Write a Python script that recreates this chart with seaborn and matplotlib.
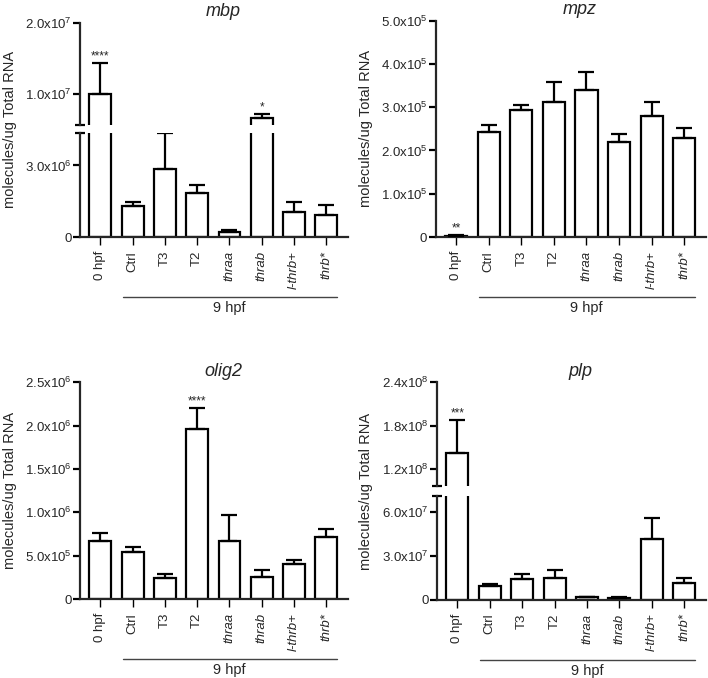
import numpy as np
import pandas as pd
import matplotlib
matplotlib.use("Agg")
import matplotlib.pyplot as plt
import matplotlib.transforms as mtransforms
import seaborn as sns

# data (molecules/ug total RNA)
groups = ['0 hpf', 'Ctrl', 'T3', 'T2', 'thraa', 'thrab', 'l-thrb+', 'thrb*']
italic_groups = ['thraa', 'thrab', 'l-thrb+', 'thrb*']

mbp_mean = [1.00e7, 1.32e6, 2.86e6, 1.86e6, 0.21e6, 6.70e6, 1.04e6, 0.92e6]
mbp_err = [4.4e6, 0.16e6, 1.50e6, 0.33e6, 0.07e6, 0.56e6, 0.44e6, 0.43e6]
mbp_stars = {0: '****', 5: '*'}

mpz_mean = [3.0e3, 2.43e5, 2.93e5, 3.13e5, 3.40e5, 2.20e5, 2.80e5, 2.29e5]
mpz_err = [1.0e3, 0.15e5, 0.12e5, 0.46e5, 0.41e5, 0.17e5, 0.33e5, 0.24e5]
mpz_stars = {0: '**'}

olig2_mean = [0.665e6, 0.542e6, 0.246e6, 1.965e6, 0.665e6, 0.254e6, 0.400e6, 0.712e6]
olig2_err = [0.100e6, 0.061e6, 0.039e6, 0.242e6, 0.300e6, 0.084e6, 0.046e6, 0.098e6]
olig2_stars = {3: '****'}

plp_mean = [1.42e8, 9.5e6, 14.0e6, 14.5e6, 1.5e6, 1.2e6, 41.2e6, 11.3e6]
plp_err = [4.6e7, 1.4e6, 3.4e6, 5.9e6, 0.3e6, 0.3e6, 14.3e6, 3.2e6]
plp_stars = {0: '***'}

# y axis segments and ticks
mbp_low = (0, 4.35e6)
mbp_high = (5.71e6, 2.0e7)
mbp_low_ticks = [0, 3.0e6]
mbp_low_labels = ['0', r'3.0x10$^{6}$']
mbp_high_ticks = [1.0e7, 2.0e7]
mbp_high_labels = [r'1.0x10$^{7}$', r'2.0x10$^{7}$']

mpz_ticks = [0, 1e5, 2e5, 3e5, 4e5, 5e5]
mpz_labels = ['0'] + [r'%d.0x10$^{5}$' % i for i in range(1, 6)]

olig2_ticks = [0, 5e5, 1e6, 1.5e6, 2e6, 2.5e6]
olig2_labels = ['0', r'5.0x10$^{5}$', r'1.0x10$^{6}$', r'1.5x10$^{6}$',
                r'2.0x10$^{6}$', r'2.5x10$^{6}$']

plp_low = (0, 7.07e7)
plp_high = (9.64e7, 2.4e8)
plp_low_ticks = [0, 3e7, 6e7]
plp_low_labels = ['0', r'3.0x10$^{7}$', r'6.0x10$^{7}$']
plp_high_ticks = [1.2e8, 1.8e8, 2.4e8]
plp_high_labels = [r'1.2x10$^{8}$', r'1.8x10$^{8}$', r'2.4x10$^{8}$']

sns.set_style('ticks')
plt.rcParams['font.family'] = ['Liberation Sans', 'DejaVu Sans']
plt.rcParams['mathtext.fontset'] = 'custom'
plt.rcParams['mathtext.rm'] = 'Liberation Sans'
plt.rcParams['mathtext.it'] = 'Liberation Sans:italic'

W, H = 708, 678
LW = 1.6
fig = plt.figure(figsize=(W / 100, H / 100), dpi=100)


def box(left, right, top, bottom):
    return [left / W, 1 - bottom / H, (right - left) / W, (bottom - top) / H]


def draw_bars(ax, mean, err):
    df = pd.DataFrame({'group': groups, 'value': mean})
    sns.barplot(data=df, x='group', y='value', ax=ax, color='white',
                edgecolor='black', linewidth=LW, width=0.68, errorbar=None,
                saturation=1)
    ax.errorbar(np.arange(len(groups)), mean, yerr=[np.zeros(len(mean)), err],
                fmt='none', ecolor='black', elinewidth=LW, capsize=6,
                capthick=LW, zorder=3)
    ax.set_xlim(-0.63, 7.67)
    ax.set_xlabel('')
    ax.set_ylabel('')
    for s in ['left', 'bottom']:
        ax.spines[s].set_linewidth(LW)
    ax.spines['top'].set_visible(False)
    ax.spines['right'].set_visible(False)
    ax.tick_params(axis='y', width=LW, length=5, labelsize=9.5, color='black', pad=1)
    ax.tick_params(axis='x', width=1.0, length=6, labelsize=9.5, color='black', pad=4)


def set_y(ax, lim, ticks, labels):
    ax.set_ylim(*lim)
    ax.set_yticks(ticks)
    ax.set_yticklabels(labels)


def finish_x(ax):
    ax.set_xticks(range(len(groups)))
    ax.set_xticklabels(groups, rotation=90)
    for t in ax.get_xticklabels():
        if t.get_text() in italic_groups:
            t.set_fontstyle('italic')
    trans = mtransforms.offset_copy(ax.get_xaxis_transform(), fig=fig,
                                    x=0, y=-60, units='dots')
    ax.plot([0.69, 7.33], [0, 0], transform=trans, clip_on=False,
            color='#444444', lw=1.0)
    trans2 = mtransforms.offset_copy(ax.get_xaxis_transform(), fig=fig,
                                     x=0, y=-71, units='dots')
    ax.text(4.0, 0, '9 hpf', transform=trans2, ha='center', va='center',
            fontsize=10.5)


def add_stars(ax_low, ax_high, mean, err, stars, low_top):
    for i, s in stars.items():
        top = mean[i] + err[i]
        ax = ax_high if (ax_high is not None and top > low_top) else ax_low
        ax.annotate(s, xy=(i, top), xytext=(0, 0.5), textcoords='offset points',
                    ha='center', va='bottom', fontsize=8.5)


def add_title(ax, title):
    ax.annotate(title, xy=(3.8, 1), xycoords=('data', 'axes fraction'),
                xytext=(0, 11), textcoords='offset pixels', ha='center',
                va='center', fontsize=13, fontstyle='italic')


def break_caps(ax_low, ax_high):
    ax_low.plot([0], [1], marker='_', markersize=7, mew=LW, color='black',
                transform=ax_low.transAxes, clip_on=False)
    ax_high.plot([0], [0], marker='_', markersize=7, mew=LW, color='black',
                 transform=ax_high.transAxes, clip_on=False)


def broken_panel(left, right, high_box, low_box, mean, err, stars, title,
                 low, high, low_ticks, low_labels, high_ticks, high_labels, ylab_x):
    ax_low = fig.add_axes(box(left, right, *low_box))
    ax_high = fig.add_axes(box(left, right, *high_box))
    draw_bars(ax_low, mean, err)
    draw_bars(ax_high, mean, err)
    set_y(ax_low, low, low_ticks, low_labels)
    set_y(ax_high, high, high_ticks, high_labels)
    ax_high.spines['bottom'].set_visible(False)
    ax_high.tick_params(axis='x', bottom=False, labelbottom=False)
    finish_x(ax_low)
    break_caps(ax_low, ax_high)
    add_stars(ax_low, ax_high, mean, err, stars, low[1])
    add_title(ax_high, title)
    ymid = (high_box[0] + low_box[1]) / 2
    fig.text(ylab_x / W, 1 - ymid / H, 'molecules/ug Total RNA', rotation=90,
             ha='center', va='center', fontsize=10.5)


def single_panel(left, right, top, bottom, mean, err, stars, title,
                 ticks, labels, ylab_x):
    ax = fig.add_axes(box(left, right, top, bottom))
    draw_bars(ax, mean, err)
    set_y(ax, (ticks[0], ticks[-1]), ticks, labels)
    finish_x(ax)
    add_stars(ax, None, mean, err, stars, ticks[-1])
    add_title(ax, title)
    fig.text(ylab_x / W, 1 - (top + bottom) / 2 / H, 'molecules/ug Total RNA',
             rotation=90, ha='center', va='center', fontsize=10.5)


broken_panel(80, 348, (22.7, 125), (133.3, 237), mbp_mean, mbp_err, mbp_stars,
             'mbp', mbp_low, mbp_high, mbp_low_ticks, mbp_low_labels,
             mbp_high_ticks, mbp_high_labels, 10)
single_panel(435.7, 706, 20.7, 237, mpz_mean, mpz_err, mpz_stars, 'mpz',
             mpz_ticks, mpz_labels, 366)
single_panel(80, 348, 382.3, 599, olig2_mean, olig2_err, olig2_stars, 'olig2',
             olig2_ticks, olig2_labels, 10)
broken_panel(437, 706, (382.3, 486), (496, 599.7), plp_mean, plp_err, plp_stars,
             'plp', plp_low, plp_high, plp_low_ticks, plp_low_labels,
             plp_high_ticks, plp_high_labels, 366)

fig.savefig('out.png', dpi=100)
